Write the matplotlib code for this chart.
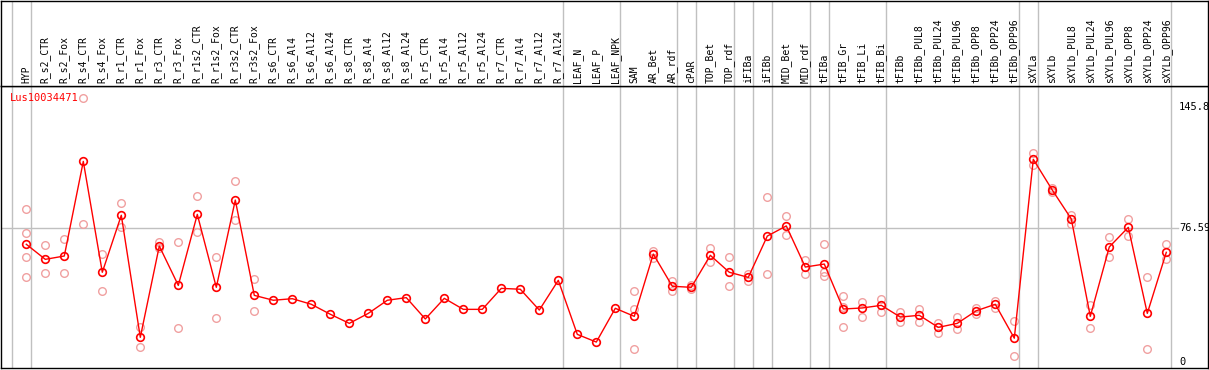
import matplotlib
matplotlib.use("Agg")
import matplotlib.pyplot as plt

# ---- data ----
GENE = "Lus10034471"
samples = ["HYP", "R_s2_CTR", "R_s2_Fox", "R_s4_CTR", "R_s4_Fox", "R_r1_CTR", "R_r1_Fox",
           "R_r3_CTR", "R_r3_Fox", "R_r1s2_CTR", "R_r1s2_Fox", "R_r3s2_CTR", "R_r3s2_Fox",
           "R_s6_CTR", "R_s6_Al4", "R_s6_Al12", "R_s6_Al24", "R_s8_CTR", "R_s8_Al4",
           "R_s8_Al12", "R_s8_Al24", "R_r5_CTR", "R_r5_Al4", "R_r5_Al12", "R_r5_Al24",
           "R_r7_CTR", "R_r7_Al4", "R_r7_Al12", "R_r7_Al24", "LEAF_N", "LEAF_P", "LEAF_NPK",
           "SAM", "AR_Bet", "AR_rdf", "cPAR", "TOP_Bet", "TOP_rdf", "iFIBa", "iFIBb",
           "MID_Bet", "MID_rdf", "tFIBa", "tFIB_Gr", "tFIB_Li", "tFIB_Bi", "tFIBb",
           "tFIBb_PUL8", "tFIBb_PUL24", "tFIBb_PUL96", "tFIBb_OPP8", "tFIBb_OPP24",
           "tFIBb_OPP96", "sXYLa", "sXYLb", "sXYLb_PUL8", "sXYLb_PUL24", "sXYLb_PUL96",
           "sXYLb_OPP8", "sXYLb_OPP24", "sXYLb_OPP96"]

means = [67.3, 58.7, 60.6, 114.7, 51.3, 83.9, 14.1, 66.3, 43.8, 84.4, 42.7, 92.6, 38.1,
         35.3, 36.2, 33.0, 27.3, 22.1, 27.8, 35.3, 36.8, 24.6, 36.4, 30.1, 30.1,
         42.1, 41.6, 29.7, 46.7, 15.8, 11.4, 30.7,
         26.1, 61.7, 43.3, 42.7, 61.0, 51.3, 48.4, 72.0, 77.8, 54.3, 56.0, 30.3, 30.9, 32.4,
         25.7, 26.7, 19.8, 22.1, 29.3, 33.0, 13.6,
         115.9, 98.3, 81.8, 26.1, 65.8, 77.0, 27.8, 62.7]

replicates = [[87.5, 73.6, 59.9, 48.4], [66.9, 50.9], [70.3, 50.9], [150.8, 78.7], [61.7, 40.6],
              [90.7, 77.0], [19.8, 8.4], [68.6, 65.0], [68.4, 19.4], [94.7, 74.2],
              [59.9, 25.0], [103.5, 81.0], [47.3, 29.2],
              [], [], [], [], [], [], [], [], [], [], [], [], [], [], [], [], [], [], [],
              [40.6, 30.3, 7.3], [63.6, 59.6], [46.3, 40.6], [44.2, 41.6], [65.0, 57.3],
              [59.9, 43.3], [50.5, 46.5], [94.3, 50.1], [83.3, 72.4], [58.3, 50.1],
              [67.5, 51.3, 49.4], [37.7, 31.6, 20.2], [34.3, 25.9], [36.0, 28.8],
              [28.8, 22.7], [30.5, 22.7], [22.1, 16.8], [25.5, 18.7], [31.0, 27.6],
              [34.7, 31.0], [23.4, 3.4],
              [119.3, 112.5], [99.7, 97.2], [84.2, 78.9], [32.6, 19.3], [71.3, 60.2],
              [81.8, 72.0], [48.4, 7.3], [67.3, 58.7]]

# last sample index of each group (-1 = line before first sample)
group_ends = [-1, 0, 28, 31, 34, 35, 37, 38, 39, 41, 42, 45, 52, 53, 60]
y_ticks = [145.8, 76.59, 0]
y_ref = 76.59

# ---- layout (pixel geometry of the original) ----
W, H = 1209, 370
x0_px, step_px = 26.3, 19.0
y0_px, y_scale = 362.0, 255.0 / 145.8

def px_to_x(px):
    return (px - x0_px) / step_px

def py_to_y(py):
    return (y0_px - py) / y_scale

mono = "DejaVu Sans Mono"
fs = 7
grid_c = "#c0c0c0"

fig = plt.figure(figsize=(W / 100, H / 100), dpi=100)
ax = fig.add_axes([1 / W, (H - 368) / H, 1207 / W, (368 - 86) / H])
top = fig.add_axes([1 / W, (H - 86) / H, 1207 / W, 85.5 / H])

xlim = (px_to_x(1), px_to_x(1208))
ax.set_xlim(*xlim)
ax.set_ylim(py_to_y(368), py_to_y(86))
top.set_xlim(*xlim)
top.set_ylim(0, 1)

for a in (ax, top):
    a.set_xticks([])
    a.set_yticks([])
    for s in a.spines.values():
        s.set_color("black")
        s.set_linewidth(1)
    for g in group_ends:
        a.axvline(g + 0.23, color=grid_c, lw=1, zorder=0)

ax.plot([xlim[0], px_to_x(1178)], [y_ref, y_ref], color=grid_c, lw=1, zorder=0)

xs = list(range(len(samples)))
for i, reps in enumerate(replicates):
    if reps:
        ax.plot([i] * len(reps), reps, "o", ms=5.5, mfc="none", mec="#f0a0a0", mew=1,
                clip_on=False, zorder=2)
ax.plot(xs, means, "-", color="red", lw=1, zorder=3)
ax.plot(xs, means, "o", ms=5.5, mfc="none", mec="red", mew=1.2, zorder=4)

for i, name in enumerate(samples):
    top.text(i, 0.04, name, rotation=90, ha="center", va="bottom",
             family=mono, fontsize=fs, color="black")

for v in y_ticks:
    ax.text(px_to_x(1179), v, f"{v:g}", ha="left", va="center",
            family=mono, fontsize=fs + 0.5, color="black")

ax.text(px_to_x(10), py_to_y(98), GENE, ha="left", va="center",
        family=mono, fontsize=fs + 0.5, color="red")

fig.savefig("out.png", dpi=100)
